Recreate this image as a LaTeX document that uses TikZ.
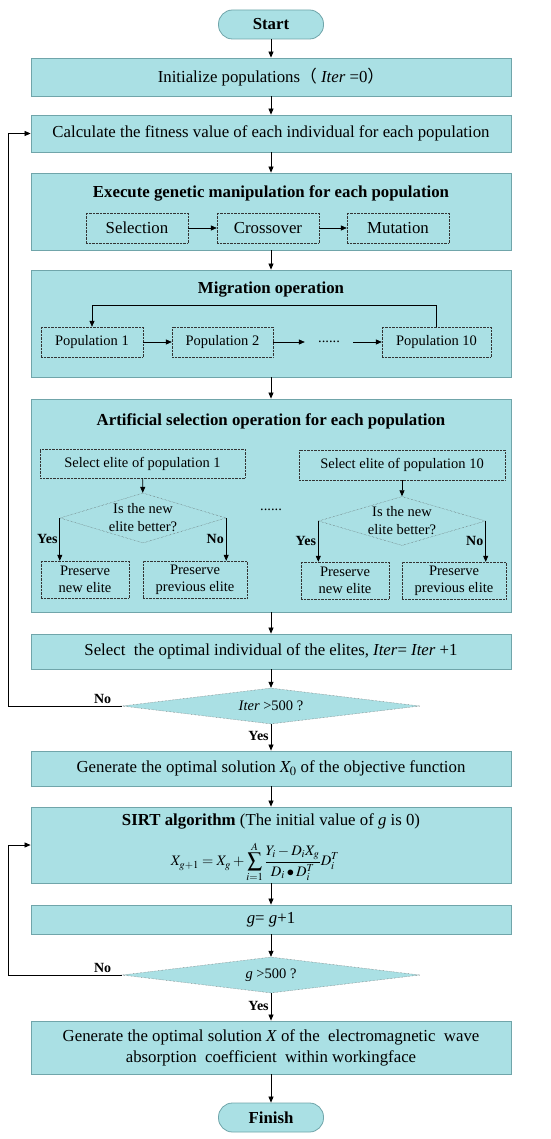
\documentclass[tikz,border=0pt]{standalone}
\usepackage{mathptmx}
\usepackage{fontspec}
\setmainfont{Liberation Serif}
\newfontfamily\cjk{Noto Sans CJK SC}
\usetikzlibrary{shapes.geometric, arrows.meta, positioning}
\definecolor{flowfill}{RGB}{170,224,228}
\definecolor{flowline}{RGB}{112,165,170}

\begin{document}
\begin{tikzpicture}[x=1pt, y=-1pt,
  box/.style={rectangle, draw=flowline, fill=flowfill, line width=0.8pt, minimum width=480pt,
              align=center, font=\fontsize{16.8}{21}\selectfont, inner sep=0pt},
  term/.style={rectangle, rounded corners=14pt, draw=flowline, fill=flowfill, line width=0.8pt,
               minimum width=105pt, minimum height=29pt, font=\fontsize{16.8}{20}\selectfont\bfseries},
  sub/.style={rectangle, draw=black!80, densely dotted, minimum height=30pt, inner sep=0pt,
              align=center, font=\fontsize{16.8}{20}\selectfont},
  subs/.style={sub, font=\fontsize{14.5}{18}\selectfont},
  test/.style={diamond, draw=black!70, densely dotted, fill=flowfill, inner sep=0pt},
  ttl/.style={font=\fontsize{16.8}{20}\selectfont\bfseries},
  txt/.style={font=\fontsize{14.5}{18}\selectfont, align=center},
  lbl/.style={font=\fontsize{14}{16}\selectfont\bfseries, inner sep=2pt},
  arr/.style={-{Triangle[length=6pt,width=5pt]}, line width=0.7pt},
]
  \useasboundingbox (0,0) rectangle (550,1139);

  % main column
  \node[term] (start) at (271,24.5) {Start};
  \node[box, minimum height=38pt] (init) at (271,77) {Initialize populations{\cjk（} \textit{Iter} =0{\cjk）}};
  \node[box, minimum height=37pt] (calc) at (271,133.5) {Calculate the fitness value of each individual for each population};
  \node[box, minimum height=77pt] (gen) at (271,211.5) {};
  \node[box, minimum height=107pt] (mig) at (271,323.5) {};
  \node[box, minimum height=213pt] (art) at (271,505.5) {};
  \node[box, minimum height=35pt] (opt) at (271,651.5) {Select\ \ the optimal individual of the elites, \textit{Iter}= \textit{Iter} +1};
  \node[test, aspect=8.3, minimum width=298pt, minimum height=36pt, font=\fontsize{14.5}{18}\selectfont] (dit) at (271,706) {\textit{Iter} \textgreater500 ?};
  \node[box, minimum height=35pt] (xo) at (271,768.5) {Generate the optimal solution $X_0$ of the objective function};
  \node[box, minimum height=76pt] (sirt) at (271,845) {};
  \node[box, minimum height=29pt] (gup) at (271,919.5) {\textit{g}= \textit{g}+1};
  \node[test, aspect=8.3, minimum width=298pt, minimum height=36pt, font=\fontsize{14.5}{18}\selectfont] (dg) at (271,975) {\textit{g} \textgreater500 ?};
  \node[box, minimum height=53pt] (sol) at (271,1047.5) {Generate the optimal solution \textit{X} of the\ \ electromagnetic\ \ wave\\
    absorption\ \ coefficient\ \ within workingface};
  \node[term] (finish) at (271,1117.5) {Finish};

  % genetic manipulation
  \node[ttl] (gent) at (271,193) {Execute genetic manipulation for each population};
  \node[sub, minimum width=102pt] (sel) at (137,228) {Selection};
  \node[sub, minimum width=102pt] (cro) at (268,228) {Crossover};
  \node[sub, minimum width=102pt] (mut) at (398,228) {Mutation};
  \draw[arr] (sel) -- (cro);
  \draw[arr] (cro) -- (mut);

  % migration
  \node[ttl] (migt) at (271,290) {Migration operation};
  \node[subs, minimum width=102pt] (p1) at (92,342) {Population 1};
  \node[subs, minimum width=101pt] (p2) at (222.5,342) {Population 2};
  \node[txt, inner sep=0pt, minimum width=48pt] (pdots) at (329,342) {\raisebox{-2pt}{......}};
  \node[subs, minimum width=109pt] (p10) at (436.5,342) {Population 10};
  \draw[arr] (p1) -- (p2);
  \draw[arr] (p2) -- (pdots);
  \draw[arr] (pdots) -- (p10);
  \draw[arr] (p10.north) |- (92,305) -- (p1.north);

  % artificial selection
  \node[ttl] (artt) at (271,421) {Artificial selection operation for each population};
  \node[subs, minimum width=205pt, minimum height=29pt] (e1) at (142.5,463.5) {Select elite of population 1};
  \node[test, minimum width=166pt, minimum height=50pt] (d1) at (143,518) {};
  \node[txt, inner sep=0pt] (d1t) at (143,518) {Is the new\\elite better?};
  \node[subs, minimum width=88pt, minimum height=37pt, font=\fontsize{14.5}{17}\selectfont] (pn1) at (85,579.5) {Preserve\\new elite};
  \node[subs, minimum width=104pt, minimum height=37pt, font=\fontsize{14.5}{17}\selectfont] (pp1) at (195,579.5) {Preserve\\previous elite};
  \node[txt] (adots) at (271,510) {......};
  \node[subs, minimum width=206pt] (e10) at (402,465) {Select elite of population 10};
  \node[test, minimum width=167pt, minimum height=49pt] (d10) at (402,521) {};
  \node[txt, inner sep=0pt] (d10t) at (402,521) {Is the new\\elite better?};
  \node[subs, minimum width=88pt, minimum height=37pt, font=\fontsize{14.5}{17}\selectfont] (pn10) at (345,580.5) {Preserve\\new elite};
  \node[subs, minimum width=104pt, minimum height=37pt, font=\fontsize{14.5}{17}\selectfont] (pp10) at (454,580.5) {Preserve\\previous elite};
  \draw[arr] (e1) -- (d1);
  \draw[arr] (d1.west) -- node[lbl, left]{Yes} (d1.west |- pn1.north);
  \draw[arr] (d1.east) -- node[lbl, left]{No} (d1.east |- pp1.north);
  \draw[arr] (e10) -- (d10);
  \draw[arr] (d10.west) -- node[lbl, left]{Yes} (d10.west |- pn10.north);
  \draw[arr] (d10.east) -- node[lbl, left]{No} (d10.east |- pp10.north);

  % SIRT
  \node[inner sep=0pt, font=\fontsize{16.8}{20}\selectfont] (sirtt) at (271,821) {\textbf{SIRT algorithm} (The initial value of \textit{g} is 0)};
  \node[inner sep=0pt, font=\fontsize{14.5}{18}\selectfont] (sirtf) at (255,862)
    {$\displaystyle X_{g+1}=X_g+\sum_{i=1}^{A}\frac{Y_i-D_iX_g}{D_i\bullet D_i^{T}}D_i^{T}$};

  % flow
  \draw[arr] (start) -- (init);
  \draw[arr] (init) -- (calc);
  \draw[arr] (calc) -- (gen);
  \draw[arr] (gen) -- (mig);
  \draw[arr] (mig) -- (art);
  \draw[arr] (art) -- (opt);
  \draw[arr] (opt) -- (dit);
  \draw[arr] (dit) -- node[lbl, left, pos=0.45]{Yes} (xo);
  \draw[arr] (xo) -- (sirt);
  \draw[arr] (sirt) -- (gup);
  \draw[arr] (gup) -- (dg);
  \draw[arr] (dg) -- node[lbl, left, pos=0.45]{Yes} (sol);
  \draw[arr] (sol) -- (finish);

  % loops back
  \draw[arr] (dit.west) -- node[lbl, above, pos=0.17]{No} ++(-113,0) |- (calc.west);
  \draw[arr] (dg.west) -- node[lbl, above, pos=0.17]{No} ++(-113,0) |- (sirt.west);
\end{tikzpicture}
\end{document}
